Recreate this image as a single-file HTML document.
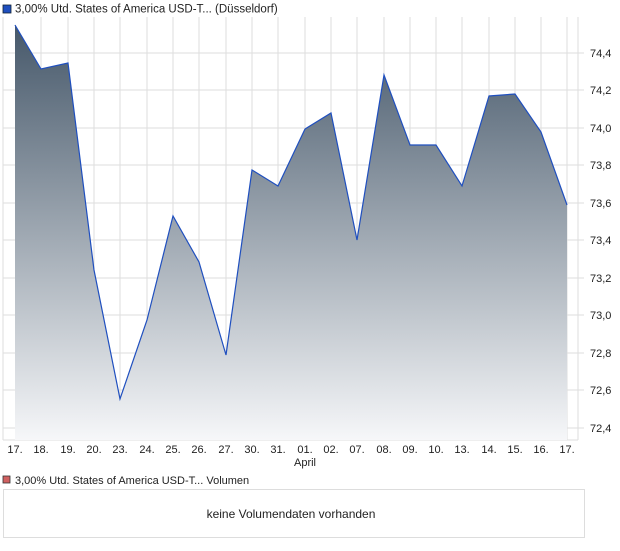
<!DOCTYPE html>
<html><head><meta charset="utf-8"><style>
body{margin:0;width:620px;height:546px;background:#fff;font-family:"Liberation Sans",sans-serif;overflow:hidden}
</style></head><body>
<svg width="620" height="546" xmlns="http://www.w3.org/2000/svg" font-family="Liberation Sans, sans-serif">
<defs><linearGradient id="g" x1="0" y1="0" x2="0" y2="1">
<stop offset="0" stop-color="#46586a"/><stop offset="1" stop-color="#f6f7f9"/></linearGradient></defs>
<rect x="3" y="5" width="8" height="8" fill="#1f4fbf" stroke="#123" stroke-width="0.8"/>
<text x="15" y="12.5" font-size="11.5" fill="#222">3,00% Utd. States of America USD-T... (Düsseldorf)</text>
<g stroke="#ddd" stroke-width="1">
<line x1="3" y1="17" x2="3" y2="440"/><line x1="578" y1="17" x2="578" y2="440"/>
<line x1="41" y1="17" x2="41" y2="440"/><line x1="68" y1="17" x2="68" y2="440"/><line x1="94" y1="17" x2="94" y2="440"/><line x1="120" y1="17" x2="120" y2="440"/><line x1="147" y1="17" x2="147" y2="440"/><line x1="173" y1="17" x2="173" y2="440"/><line x1="199" y1="17" x2="199" y2="440"/><line x1="226" y1="17" x2="226" y2="440"/><line x1="252" y1="17" x2="252" y2="440"/><line x1="278" y1="17" x2="278" y2="440"/><line x1="305" y1="17" x2="305" y2="440"/><line x1="331" y1="17" x2="331" y2="440"/><line x1="357" y1="17" x2="357" y2="440"/><line x1="384" y1="17" x2="384" y2="440"/><line x1="410" y1="17" x2="410" y2="440"/><line x1="436" y1="17" x2="436" y2="440"/><line x1="462" y1="17" x2="462" y2="440"/><line x1="489" y1="17" x2="489" y2="440"/><line x1="515" y1="17" x2="515" y2="440"/><line x1="541" y1="17" x2="541" y2="440"/><line x1="567" y1="17" x2="567" y2="440"/>
<line x1="3" y1="53" x2="584" y2="53"/><line x1="3" y1="90" x2="584" y2="90"/><line x1="3" y1="128" x2="584" y2="128"/><line x1="3" y1="165" x2="584" y2="165"/><line x1="3" y1="203" x2="584" y2="203"/><line x1="3" y1="240" x2="584" y2="240"/><line x1="3" y1="278" x2="584" y2="278"/><line x1="3" y1="315" x2="584" y2="315"/><line x1="3" y1="353" x2="584" y2="353"/><line x1="3" y1="390" x2="584" y2="390"/><line x1="3" y1="428" x2="584" y2="428"/>
<line x1="3" y1="440" x2="578" y2="440"/>
</g>
<polygon fill="url(#g)" points="15,440 15,25 41,69 68,63 94,270 120,399 147,320 173,216 199,262 226,355 252,170 278,186 305,129 331,113 357,240 384,75 410,145 436,145 462,186 489,96 515,94 541,132 567,205 567,440"/>
<polyline fill="none" stroke="#1f4fbf" stroke-width="1.2" points="15,25 41,69 68,63 94,270 120,399 147,320 173,216 199,262 226,355 252,170 278,186 305,129 331,113 357,240 384,75 410,145 436,145 462,186 489,96 515,94 541,132 567,205"/>
<g font-size="11" fill="#222">
<text x="590" y="57">74,4</text><text x="590" y="94">74,2</text><text x="590" y="132">74,0</text><text x="590" y="169">73,8</text><text x="590" y="207">73,6</text><text x="590" y="244">73,4</text><text x="590" y="282">73,2</text><text x="590" y="319">73,0</text><text x="590" y="357">72,8</text><text x="590" y="394">72,6</text><text x="590" y="432">72,4</text>
</g>
<g font-size="11" fill="#222" text-anchor="middle">
<text x="15" y="453">17.</text><text x="41" y="453">18.</text><text x="68" y="453">19.</text><text x="94" y="453">20.</text><text x="120" y="453">23.</text><text x="147" y="453">24.</text><text x="173" y="453">25.</text><text x="199" y="453">26.</text><text x="226" y="453">27.</text><text x="252" y="453">30.</text><text x="278" y="453">31.</text><text x="305" y="453">01.</text><text x="331" y="453">02.</text><text x="357" y="453">07.</text><text x="384" y="453">08.</text><text x="410" y="453">09.</text><text x="436" y="453">10.</text><text x="462" y="453">13.</text><text x="489" y="453">14.</text><text x="515" y="453">15.</text><text x="541" y="453">16.</text><text x="567" y="453">17.</text>
<text x="305" y="466">April</text>
</g>
<rect x="3" y="476" width="7" height="7" fill="#d06060" stroke="#333" stroke-width="0.8"/>
<text x="15" y="484" font-size="11" fill="#222">3,00% Utd. States of America USD-T... Volumen</text>
<rect x="3.5" y="489.5" width="581" height="48" fill="#fff" stroke="#ddd"/>
<text x="291" y="518" font-size="12" fill="#222" text-anchor="middle">keine Volumendaten vorhanden</text>
</svg>
</body></html>
